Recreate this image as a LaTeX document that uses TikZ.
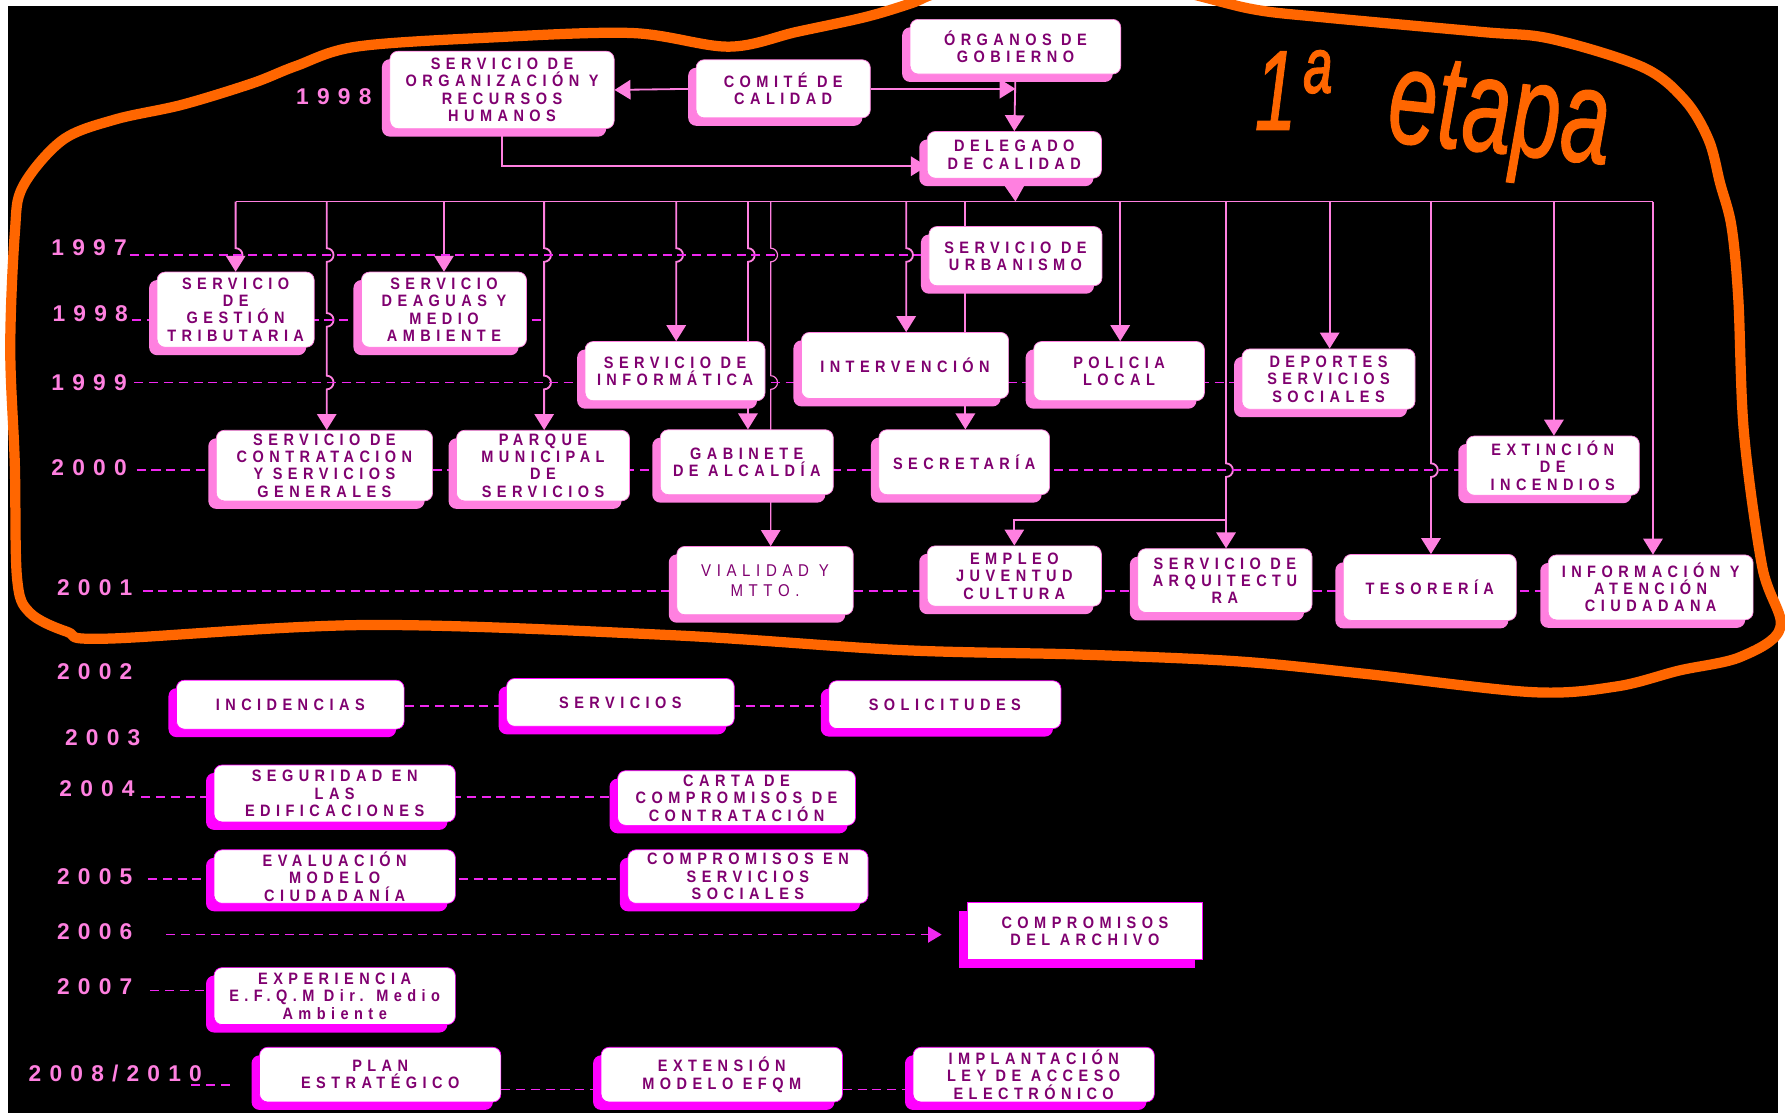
\documentclass[tikz,border=0pt]{standalone}
\usepackage{fontspec}
\setmainfont{Liberation Sans}
\newfontfamily\boxfont[LetterSpace=33,FakeStretch=0.88]{Liberation Sans}
\newfontfamily\yearfont[LetterSpace=36]{Liberation Sans}
\newfontfamily\handfont[FakeBold=1]{Liberation Sans}
\usetikzlibrary{arrows.meta,
	shadows,
	backgrounds,
	calc}
\definecolor{pinkl}{RGB}{255,128,224}
\definecolor{mag}{RGB}{255,0,255}
\definecolor{purp}{RGB}{128,0,112}
\definecolor{orng}{RGB}{255,102,0}
\definecolor{dashc}{RGB}{240,40,240}
\tikzstyle{unitbase}=[draw=pinkl, line width=0.6pt, fill=white, rounded corners=7pt,
		align=center, text=purp, inner sep=0pt,
		font=\boxfont\bfseries\fontsize{14.5}{15.2}\selectfont]
\tikzstyle{unit}=[unitbase, drop shadow={shadow xshift=-7pt, shadow yshift=-7pt, fill=pinkl, opacity=1}]
\tikzstyle{unitb}=[unitbase, draw=mag, drop shadow={shadow xshift=-7pt, shadow yshift=-7pt, fill=mag, opacity=1}]
\tikzstyle{yr}=[text=pinkl, inner sep=0pt, anchor=base west,
		font=\yearfont\bfseries\fontsize{20}{20}\selectfont]
\tikzstyle{ln}=[draw=pinkl, line width=1.6pt]
\tikzstyle{con}=[ln, -{Triangle[width=17pt,length=14pt]}]
\tikzstyle{dl}=[draw=dashc, line width=1.3pt, dash pattern=on 8pt off 5pt]
\tikzstyle{hand}=[text=orng, inner sep=0pt, anchor=base west, font=\handfont\itshape,
		xscale=0.66, transform shape]

\begin{document}
\begin{tikzpicture}[x=1pt, y=-1pt]
        \useasboundingbox (0,0) rectangle (1568,978);
        \node[unit, minimum width=185, minimum height=48] (og) at (892,41) {ÓRGANOS DE\\GOBIERNO};
        \node[unit, minimum width=153, minimum height=51] (comite) at (688,78) {COMITÉ DE\\CALIDAD};
        \node[unit, minimum width=197, minimum height=68] (sorh) at (441,79) {SERVICIO DE\\ORGANIZACIÓN Y\\RECURSOS\\HUMANOS};
        \node[unit, minimum width=153, minimum height=41] (deleg) at (891,136) {DELEGADO\\DE CALIDAD};
        \node[unit, minimum width=152, minimum height=52] (urb) at (892,225) {SERVICIO DE\\URBANISMO};
        \node[unit, minimum width=138, minimum height=66] (gest) at (207,272) {SERVICIO\\DE\\GESTIÓN\\TRIBUTARIA};
        \node[unit, minimum width=145, minimum height=66] (aguas) at (390,272) {SERVICIO\\DEAGUAS Y\\MEDIO\\AMBIENTE};
        \node[unit, minimum width=158, minimum height=52] (info) at (593,326) {SERVICIO DE\\INFORMÁTICA};
        \node[unit, minimum width=182, minimum height=58] (interv) at (795,321) {INTERVENCIÓN};
        \node[unit, minimum width=150, minimum height=52] (poli) at (983,326) {POLICIA\\LOCAL};
        \node[unit, minimum width=152, minimum height=53] (depo) at (1167,333) {DEPORTES\\SERVICIOS\\SOCIALES};
        \node[unit, minimum width=190, minimum height=62] (contr) at (285,409) {SERVICIO DE\\CONTRATACION\\Y SERVICIOS\\GENERALES};
        \node[unit, minimum width=152, minimum height=62] (parque) at (477,409) {PARQUE\\MUNICIPAL\\DE\\SERVICIOS};
        \node[unit, minimum width=152, minimum height=57] (gab) at (656,406) {GABINETE\\DE ALCALDÍA};
        \node[unit, minimum width=150, minimum height=57] (secr) at (847,406) {SECRETARÍA};
        \node[unit, minimum width=152, minimum height=52] (ext) at (1364,409) {EXTINCIÓN\\DE\\INCENDIOS};
        \node[unit, minimum width=155, minimum height=60, font=\boxfont\fontsize{15}{17}\selectfont] (vial) at (672,510) {VIALIDAD Y\\MTTO.};
        \node[unit, minimum width=153, minimum height=53] (empleo) at (891,506) {EMPLEO\\JUVENTUD\\CULTURA};
        \node[unit, minimum width=153, minimum height=56] (arq) at (1076,510) {SERVICIO DE\\ARQUITECTU\\RA};
        \node[unit, minimum width=152, minimum height=58] (teso) at (1256,516) {TESORERÍA};
        \node[unit, minimum width=180, minimum height=57] (infat) at (1450,516) {INFORMACIÓN Y\\ATENCIÓN\\CIUDADANA};
        \node[unitb, minimum width=200, minimum height=43] (inc) at (255,619) {INCIDENCIAS};
        \node[unitb, minimum width=200, minimum height=42] (serv) at (545,617) {SERVICIOS};
        \node[unitb, minimum width=204, minimum height=42] (soli) at (830,619) {SOLICITUDES};
        \node[unitb, minimum width=212, minimum height=50] (segu) at (294,697) {SEGURIDAD EN\\LAS\\EDIFICACIONES};
        \node[unitb, minimum width=209, minimum height=48] (carta) at (647,701) {CARTA DE\\COMPROMISOS DE\\CONTRATACIÓN};
        \node[unitb, minimum width=212, minimum height=47] (eval) at (294,770) {EVALUACIÓN\\MODELO\\CIUDADANÍA};
        \node[unitb, minimum width=211, minimum height=47] (cserv) at (657,770) {COMPROMISOS EN\\SERVICIOS\\SOCIALES};
        \node[unitb, sharp corners, minimum width=207, minimum height=50] (arch) at (953,818) {COMPROMISOS\\DEL ARCHIVO};
        \node[unitb, minimum width=212, minimum height=50] (expe) at (294,875) {EXPERIENCIA\\E.F.Q.M Dir. Medio\\Ambiente};
        \node[unitb, minimum width=212, minimum height=48] (plan) at (334,944) {PLAN\\ESTRATÉGICO};
        \node[unitb, minimum width=212, minimum height=48] (efqm) at (634,944) {EXTENSIÓN\\MODELO EFQM};
        \node[unitb, minimum width=212, minimum height=48] (ley) at (908,944) {IMPLANTACIÓN\\LEY DE ACCESO\\ELECTRÓNICO};
        \node[yr] (yt) at (260,92) {1998};
        \node[yr] (y97) at (45,224) {1997};
        \node[yr] (y98) at (46,282) {1998};
        \node[yr] (y99) at (45,343) {1999};
        \node[yr] (y00) at (45,418) {2000};
        \node[yr] (y01) at (50,523) {2001};
        \node[yr] (y02) at (50,597) {2002};
        \node[yr] (y03) at (57,655) {2003};
        \node[yr] (y04) at (52,700) {2004};
        \node[yr] (y05) at (50,777) {2005};
        \node[yr] (y06) at (50,825) {2006};
        \node[yr] (y07) at (50,874) {2007};
        \node[yr] (y08) at (25,950) {2008/2010};
        \begin{scope}[on background layer]
            \fill[white] (0,0) rectangle (1568,978);
            \fill[black] (7,5) rectangle (1562,978);
            \draw[con] (comite.west) -- (sorh.east);
            \draw[con] (comite.east) -- (comite.east -| og.south);
            \draw[con] (og.south) -- (deleg.north);
            \draw[con] (sorh.south) |- ([yshift=-10pt]deleg.west);
            \foreach \x in {207,287,390,478,594,657,677,796,848,984,1077,1168,1257,1365,1452}
                \coordinate (b\x) at (\x,177);
            \coordinate (bus) at (892,177);
            \draw[con] (deleg.south) -- (bus);
            \draw[ln] (b207) -- (b1452);
            \foreach \x/\t in {390/aguas,984/poli,1168/depo,1365/ext,1452/infat}
                \draw[con] (b\x) -- (b\x |- \t.north);
            \draw[con] (b207) -- (207,218) arc[start angle=90,end angle=-90,radius=6pt] -- (b207 |- gest.north);
            \draw[con] (b287) \foreach \h in {224,281,336} {-- (287,\h-6) arc[start angle=90,end angle=-90,radius=6pt]} -- (b287 |- contr.north);
            \draw[con] (b478) \foreach \h in {224,336} {-- (478,\h-6) arc[start angle=90,end angle=-90,radius=6pt]} -- (b478 |- parque.north);
            \draw[con] (b594) -- (594,218) arc[start angle=90,end angle=-90,radius=6pt] -- (b594 |- info.north);
            \draw[con] (b657) -- (657,218) arc[start angle=90,end angle=-90,radius=6pt] -- (b657 |- gab.north);
            \draw[con, line width=1pt] (b677) \foreach \h in {224,336} {-- (677,\h-6) arc[start angle=90,end angle=-90,radius=6pt]} -- (b677 |- vial.north);
            \draw[con] (b796) -- (796,218) arc[start angle=90,end angle=-90,radius=6pt] -- (b796 |- interv.north);
            \draw[con] (b848) -- (b848 |- secr.north);
            \draw[con] (b1077) -- (1077,407) arc[start angle=90,end angle=-90,radius=6pt] -- (b1077 |- arq.north);
            \coordinate (br) at (1077,457);
            \draw[con] (br) -| (empleo.north);
            \draw[con] (b1257) -- (1257,407) arc[start angle=90,end angle=-90,radius=6pt] -- (b1257 |- teso.north);
            \coordinate (l97) at (114,224);
            \coordinate (l98) at (116,281);
            \coordinate (e98) at (476,281);
            \coordinate (l99) at (118,336);
            \coordinate (l00) at (120,413);
            \coordinate (l01) at (126,519);
            \coordinate (l02) at (356,620);
            \coordinate (l04) at (124,700);
            \coordinate (l05) at (130,772);
            \coordinate (l06) at (146,821);
            \coordinate (l07) at (132,870);
            \coordinate (l08) at (168,953);
            \draw[dl] (l97) -- (l97 -| urb.west);
            \draw[dl] (l98) -- (e98);
            \draw[dl] (l99) -- (l99 -| depo.west);
            \draw[dl] (l00) -- (l00 -| ext.west);
            \draw[dl] (l01) -- (l01 -| infat.west);
            \draw[dl] (l02) -- (l02 -| soli.west);
            \draw[dl] (l04) -- (l04 -| carta.west);
            \draw[dl] (l05) -- (l05 -| cserv.west);
            \draw[dl, -{Triangle[width=14pt,length=12pt]}, shorten >=22pt] (l06) -- (l06 -| arch.west);
            \draw[dl] (l07) -- (l07 -| expe.west);
            \draw[dl, shorten >=26pt] (l08) -- (l08 -| plan.west);
            \draw[dl] ([yshift=-13pt]plan.east) -- ([yshift=-13pt]efqm.west) ([yshift=-13pt]efqm.east) -- ([yshift=-13pt]ley.west);
        \end{scope}
        \draw[orng, line width=9pt, line cap=round, line join=round] plot[smooth cycle, tension=0.55] coordinates {
            (13,205) (20,164) (55,123) (101,105) (160,92) (222,73) (260,58) (313,41) (430,33) (555,29)
            (640,41) (700,28) (760,15) (800,3) (830,-8) (930,-30) (1035,-8) (1100,8) (1160,15) (1301,28)
            (1362,34) (1443,59) (1480,88) (1501,123) (1511,161) (1521,199) (1527,263) (1532,381) (1548,498)
            (1564,551) (1529,577) (1475,589) (1420,603) (1346,608) (1200,592) (1088,581) (950,575) (791,571)
            (591,558) (323,549) (94,561) (59,555) (26,538) (15,508) (13,407) (9,306)};
        \node[hand, font=\handfont\itshape\fontsize{100}{100}\selectfont] (uno) at (1102,114) {1\kern6ptª};
        \node[hand, font=\handfont\itshape\fontsize{118}{118}\selectfont, rotate=-4] (etapa) at (1218,124) {etapa};
    \end{tikzpicture}
\end{document}
